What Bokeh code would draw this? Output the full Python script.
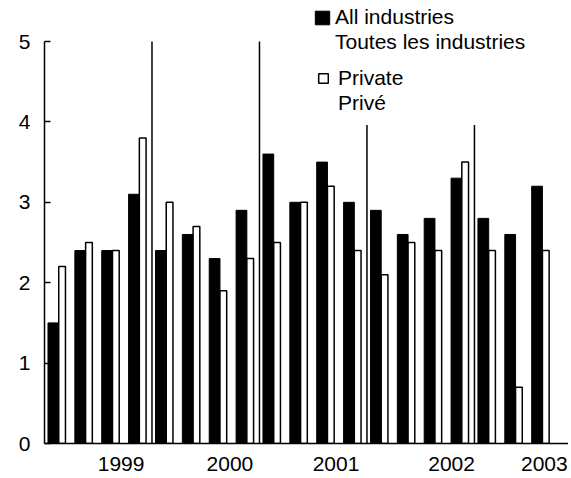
from bokeh.plotting import figure
from bokeh.models import (ColumnDataSource, Legend, LegendItem, FixedTicker,
                          Range1d)
from bokeh.embed import file_html
from bokeh.resources import INLINE

# ---- data -------------------------------------------------------------
quarters = ["1999Q1", "1999Q2", "1999Q3", "1999Q4",
            "2000Q1", "2000Q2", "2000Q3", "2000Q4",
            "2001Q1", "2001Q2", "2001Q3", "2001Q4",
            "2002Q1", "2002Q2", "2002Q3", "2002Q4",
            "2003Q1", "2003Q2", "2003Q3"]
all_industries = [1.5, 2.4, 2.4, 3.1, 2.4, 2.6, 2.3, 2.9, 3.6, 3.0,
                  3.5, 3.0, 2.9, 2.6, 2.8, 3.3, 2.8, 2.6, 3.2]
private = [2.2, 2.5, 2.4, 3.8, 3.0, 2.7, 1.9, 2.3, 2.5, 3.0,
           3.2, 2.4, 2.1, 2.5, 2.4, 3.5, 2.4, 0.7, 2.4]
year_labels = ["1999", "2000", "2001", "2002", "2003"]
year_label_pos = [2.85, 6.9, 10.85, 15.15, 18.6]
y_ticks = [0, 1, 2, 3, 4, 5]

FONT = "Liberation Sans"
FS = "21px"

idx = list(range(len(quarters)))
src = ColumnDataSource(dict(
    xa=[i + 0.33 for i in idx],
    xp=[i + 0.655 for i in idx],
    a=all_industries,
    p=private,
))

# year boundaries (where the year changes)
years = [q[:4] for q in quarters]
bounds = [i for i in range(1, len(years)) if years[i] != years[i - 1]]

p = figure(width=568, height=478, output_backend="svg", toolbar_location=None,
           x_range=Range1d(0, 19.5), y_range=Range1d(0, 5.51),
           min_border_left=44, min_border_right=0, min_border_top=0,
           min_border_bottom=35)
p.outline_line_color = None
p.xgrid.visible = False
p.ygrid.visible = False
p.background_fill_color = "white"
p.border_fill_color = "white"

# separators between years
p.segment(x0=bounds, x1=bounds, y0=[0] * len(bounds), y1=[5] * len(bounds),
          line_color="black", line_width=1.5)

r_all = p.vbar(x="xa", top="a", width=0.40, bottom=0, source=src,
               fill_color="black", line_color="black", line_width=1,
               line_join="round")
r_priv = p.vbar(x="xp", top="p", width=0.25, bottom=0, source=src,
                fill_color="white", line_color="black", line_width=1.5)

empty = ColumnDataSource(dict(x=[], top=[]))
r_dummy1 = p.vbar(x="x", top="top", width=0.3, source=empty,
                  fill_alpha=0, line_alpha=0)
r_dummy2 = p.vbar(x="x", top="top", width=0.3, source=empty,
                  fill_alpha=0, line_alpha=0)

# axes
p.yaxis.ticker = FixedTicker(ticks=y_ticks)
p.yaxis.bounds = (0, 5)
p.yaxis.axis_line_width = 1.5
p.yaxis.major_tick_line_width = 1.5
p.yaxis.major_tick_in = 6
p.yaxis.major_tick_out = 0
p.yaxis.minor_tick_line_color = None
p.yaxis.major_label_standoff = 14

p.xaxis.ticker = FixedTicker(ticks=year_label_pos)
p.xaxis.major_label_overrides = {pos: lab for pos, lab in zip(year_label_pos, year_labels)}
p.xaxis.axis_line_width = 1.5
p.xaxis.major_tick_in = 0
p.xaxis.major_tick_out = 0
p.xaxis.minor_tick_line_color = None
p.xaxis.major_label_standoff = 13

for ax in (p.xaxis, p.yaxis):
    ax.major_label_text_font = FONT
    ax.major_label_text_font_size = FS
    ax.major_label_text_color = "black"
    ax.axis_line_color = "black"
    ax.major_tick_line_color = "black"

# legends
leg1 = Legend(items=[LegendItem(label="All industries", renderers=[r_all]),
                     LegendItem(label="Toutes les industries", renderers=[r_dummy1])],
              location=(261, 380.5), padding=8, spacing=0, margin=0,
              label_height=25, glyph_height=17, glyph_width=18,
              label_standoff=4, border_line_alpha=0,
              background_fill_color="white", background_fill_alpha=1,
              label_text_font=FONT, label_text_font_size=FS,
              label_text_color="black")
leg2 = Legend(items=[LegendItem(label="Private", renderers=[r_priv]),
                     LegendItem(label="Privé", renderers=[r_dummy2])],
              location=(263, 318), padding=10, spacing=0, margin=0,
              label_height=25, label_width=190, glyph_height=12, glyph_width=12,
              label_standoff=9, border_line_alpha=0,
              background_fill_color="white", background_fill_alpha=1,
              label_text_font=FONT, label_text_font_size=FS,
              label_text_color="black")
p.add_layout(leg1)
p.add_layout(leg2)

open("out.html", "w").write(file_html(p, INLINE))
